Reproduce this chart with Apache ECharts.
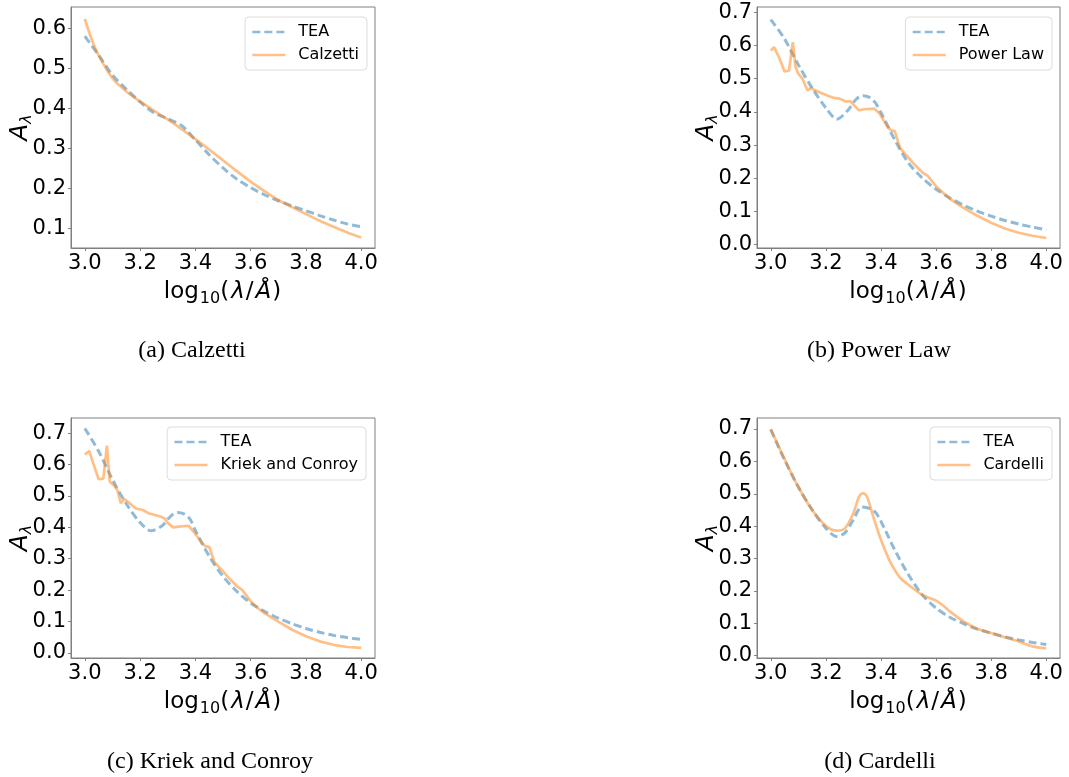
<!DOCTYPE html>
<html>
<head>
<meta charset="utf-8">
<script src="https://cdn.jsdelivr.net/npm/echarts@6/dist/echarts.min.js"></script>
<style>
  html, body { margin: 0; padding: 0; background: #fff; }
  #chart { width: 1069px; height: 777px; }
</style>
</head>
<body>
<div id="chart"></div>
<script>
// Tick values shared by the panels
const xTicks = [3.0, 3.2, 3.4, 3.6, 3.8, 4.0];
const yTicksA = [0.1, 0.2, 0.3, 0.4, 0.5, 0.6];
const yTicksB = [0.0, 0.1, 0.2, 0.3, 0.4, 0.5, 0.6, 0.7];

// (a) Calzetti
const teaAX = [3.0, 3.05, 3.1, 3.15, 3.2, 3.25, 3.3, 3.35, 3.4, 3.45, 3.5, 3.55, 3.6, 3.65, 3.7, 3.75, 3.8, 3.85, 3.9, 3.95, 4.0];
const teaAY = [0.580, 0.533, 0.483, 0.448, 0.416, 0.389, 0.374, 0.357, 0.321, 0.284, 0.251, 0.223, 0.202, 0.184, 0.169, 0.156, 0.144, 0.132, 0.121, 0.111, 0.104];
const calzettiX = [3.0, 3.025, 3.05, 3.1, 3.15, 3.2, 3.25, 3.3, 3.35, 3.4, 3.45, 3.5, 3.55, 3.6, 3.65, 3.7, 3.75, 3.8, 3.85, 3.9, 3.95, 4.0];
const calzettiY = [0.623, 0.572, 0.532, 0.475, 0.442, 0.417, 0.394, 0.372, 0.348, 0.323, 0.297, 0.270, 0.243, 0.217, 0.193, 0.171, 0.153, 0.136, 0.119, 0.104, 0.090, 0.077];

// (b) Power Law
const teaBX = [3.0, 3.05, 3.1, 3.15, 3.2, 3.24, 3.28, 3.31, 3.335, 3.36, 3.38, 3.4, 3.45, 3.5, 3.55, 3.6, 3.65, 3.7, 3.75, 3.8, 3.85, 3.9, 3.95, 4.0];
const teaBY = [0.678, 0.620, 0.542, 0.472, 0.412, 0.378, 0.405, 0.438, 0.449, 0.443, 0.427, 0.398, 0.316, 0.246, 0.201, 0.167, 0.141, 0.119, 0.101, 0.086, 0.073, 0.062, 0.053, 0.045];
const powerLawX = [3.0, 3.012, 3.03, 3.05, 3.066, 3.08, 3.09, 3.1, 3.115, 3.133, 3.147, 3.16, 3.185, 3.21, 3.23, 3.25, 3.27, 3.29, 3.3, 3.32, 3.34, 3.375, 3.395, 3.42, 3.435, 3.45, 3.47, 3.5, 3.52, 3.55, 3.57, 3.6, 3.63, 3.65, 3.7, 3.75, 3.8, 3.85, 3.9, 3.95, 4.0];
const powerLawY = [0.585, 0.595, 0.565, 0.522, 0.524, 0.610, 0.535, 0.515, 0.500, 0.465, 0.472, 0.465, 0.456, 0.448, 0.442, 0.440, 0.432, 0.432, 0.422, 0.405, 0.408, 0.410, 0.395, 0.360, 0.345, 0.342, 0.290, 0.262, 0.243, 0.218, 0.207, 0.176, 0.153, 0.138, 0.111, 0.087, 0.066, 0.049, 0.036, 0.027, 0.020];

// (c) Kriek and Conroy
const teaCX = [3.0, 3.05, 3.1, 3.15, 3.2, 3.24, 3.28, 3.31, 3.335, 3.36, 3.38, 3.4, 3.45, 3.5, 3.55, 3.6, 3.65, 3.7, 3.75, 3.8, 3.85, 3.9, 3.95, 4.0];
const teaCY = [0.715, 0.642, 0.552, 0.475, 0.415, 0.389, 0.405, 0.435, 0.447, 0.442, 0.427, 0.390, 0.308, 0.244, 0.196, 0.159, 0.133, 0.111, 0.093, 0.078, 0.066, 0.056, 0.049, 0.043];
const kriekX = [3.0, 3.016, 3.03, 3.05, 3.067, 3.08, 3.09, 3.107, 3.118, 3.13, 3.143, 3.16, 3.185, 3.21, 3.23, 3.25, 3.27, 3.29, 3.3, 3.32, 3.34, 3.375, 3.395, 3.42, 3.435, 3.45, 3.47, 3.5, 3.52, 3.55, 3.57, 3.6, 3.63, 3.65, 3.7, 3.75, 3.8, 3.85, 3.9, 3.95, 4.0];
const kriekY = [0.632, 0.643, 0.605, 0.553, 0.555, 0.660, 0.546, 0.532, 0.518, 0.477, 0.490, 0.478, 0.460, 0.455, 0.445, 0.440, 0.435, 0.428, 0.414, 0.400, 0.402, 0.405, 0.385, 0.355, 0.340, 0.338, 0.287, 0.260, 0.240, 0.213, 0.200, 0.165, 0.140, 0.127, 0.100, 0.074, 0.053, 0.037, 0.026, 0.019, 0.016];

// (d) Cardelli
const teaDX = [3.0, 3.05, 3.1, 3.15, 3.2, 3.24, 3.27, 3.3, 3.33, 3.36, 3.38, 3.4, 3.45, 3.5, 3.55, 3.6, 3.65, 3.7, 3.75, 3.8, 3.85, 3.9, 3.95, 4.0];
const teaDY = [0.698, 0.605, 0.521, 0.451, 0.394, 0.368, 0.380, 0.420, 0.459, 0.454, 0.443, 0.415, 0.327, 0.250, 0.188, 0.147, 0.119, 0.099, 0.082, 0.070, 0.058, 0.049, 0.041, 0.035];
const cardelliX = [3.0, 3.05, 3.1, 3.15, 3.2, 3.24, 3.27, 3.3, 3.32, 3.335, 3.35, 3.37, 3.4, 3.43, 3.45, 3.47, 3.5, 3.55, 3.6, 3.63, 3.65, 3.7, 3.75, 3.8, 3.85, 3.9, 3.95, 4.0];
const cardelliY = [0.700, 0.607, 0.521, 0.451, 0.401, 0.386, 0.394, 0.440, 0.490, 0.502, 0.490, 0.435, 0.358, 0.296, 0.265, 0.240, 0.219, 0.188, 0.170, 0.152, 0.137, 0.106, 0.083, 0.070, 0.057, 0.044, 0.029, 0.023];

const panels = [
  { grid: { left: 71, top: 7, width: 304, height: 241 }, yMin: 0.051, yMax: 0.653, yTicks: yTicksA,
    model: 'Calzetti', teaX: teaAX, teaY: teaAY, mX: calzettiX, mY: calzettiY, smoothModel: true,
    legend: { right: 702, top: 17 }, caption: '(a) Calzetti', capX: 192, capY: 351 },
  { grid: { left: 757, top: 7, width: 303, height: 241 }, yMin: -0.010, yMax: 0.716, yTicks: yTicksB,
    model: 'Power Law', teaX: teaBX, teaY: teaBY, mX: powerLawX, mY: powerLawY, smoothModel: false,
    legend: { right: 17, top: 17 }, caption: '(b) Power Law', capX: 879, capY: 351 },
  { grid: { left: 71, top: 418, width: 304, height: 240 }, yMin: -0.016, yMax: 0.748, yTicks: yTicksB,
    model: 'Kriek and Conroy', teaX: teaCX, teaY: teaCY, mX: kriekX, mY: kriekY, smoothModel: false,
    legend: { right: 703, top: 427 }, caption: '(c) Kriek and Conroy', capX: 210, capY: 762 },
  { grid: { left: 757, top: 418, width: 303, height: 240 }, yMin: -0.007, yMax: 0.734, yTicks: yTicksB,
    model: 'Cardelli', teaX: teaDX, teaY: teaDY, mX: cardelliX, mY: cardelliY, smoothModel: true,
    legend: { right: 17, top: 427 }, caption: '(d) Cardelli', capX: 880, capY: 762 }
];

const SANS = 'DejaVu Sans';
const SPINE = '#808080';
const BLUE = 'rgba(31,119,180,0.5)';
const ORANGE = 'rgba(255,127,14,0.5)';

const zip = (xs, ys) => xs.map((x, i) => [x, ys[i]]);

const option = {
  backgroundColor: '#fff',
  animation: false,
  grid: [], xAxis: [], yAxis: [], series: [], legend: [], graphic: []
};

panels.forEach((p, i) => {
  option.grid.push(Object.assign({ show: true, borderColor: SPINE, borderWidth: 1, containLabel: false }, p.grid));
  option.xAxis.push({
    type: 'value', gridIndex: i, min: 2.95, max: 4.05,
    axisLine: { show: true, onZero: false, lineStyle: { color: SPINE, width: 1 } },
    axisTick: { show: true, length: 3, customValues: xTicks, lineStyle: { color: SPINE } },
    axisLabel: { customValues: xTicks, margin: 5, fontFamily: SANS, fontSize: 21, color: '#000',
      formatter: v => v.toFixed(1) },
    splitLine: { show: false },
    name: '{a|log}{s|10}{a|(}{i|λ}{a|/}{i|Å}{a|)}',
    nameLocation: 'middle', nameGap: 29, nameMoveOverlap: false,
    nameTextStyle: {
      rich: {
        a: { fontFamily: SANS, fontSize: 23, color: '#000', lineHeight: 30, padding: [0, 1, 0, 0] },
        i: { fontFamily: SANS, fontSize: 23, fontStyle: 'italic', color: '#000', lineHeight: 30, padding: [0, 1, 0, 1] },
        s: { fontFamily: SANS, fontSize: 16, color: '#000', verticalAlign: 'bottom', lineHeight: 12 }
      }
    }
  });
  option.yAxis.push({
    type: 'value', gridIndex: i, min: p.yMin, max: p.yMax,
    axisLine: { show: true, onZero: false, lineStyle: { color: SPINE, width: 1 } },
    axisTick: { show: true, length: 3, customValues: p.yTicks, lineStyle: { color: SPINE } },
    axisLabel: { customValues: p.yTicks, margin: 5, fontFamily: SANS, fontSize: 21, color: '#000',
      formatter: v => v.toFixed(1) },
    splitLine: { show: false },
    name: '{i|A}{s|λ}',
    nameLocation: 'middle', nameRotate: 90, nameGap: 36, nameMoveOverlap: false,
    nameTextStyle: {
      rich: {
        i: { fontFamily: SANS, fontSize: 25, fontStyle: 'italic', color: '#000', lineHeight: 30 },
        s: { fontFamily: SANS, fontSize: 16, fontStyle: 'italic', color: '#000', verticalAlign: 'bottom', lineHeight: 10 }
      }
    }
  });
  option.series.push({
    name: 'TEA', type: 'line', xAxisIndex: i, yAxisIndex: i,
    data: zip(p.teaX, p.teaY), symbol: 'none', smooth: 0.3,
    lineStyle: { color: BLUE, width: 3, type: [8, 4] }, itemStyle: { color: BLUE }
  });
  option.series.push({
    name: p.model, type: 'line', xAxisIndex: i, yAxisIndex: i,
    data: zip(p.mX, p.mY), symbol: 'none', smooth: p.smoothModel ? 0.3 : false,
    lineStyle: { color: ORANGE, width: 2.7 }, itemStyle: { color: ORANGE }
  });
  option.legend.push(Object.assign({
    orient: 'vertical', data: ['TEA', p.model],
    padding: [7, 8, 7, 6], itemGap: 7, itemWidth: 33, itemHeight: 14,
    borderColor: '#dcdcdc', borderWidth: 1, borderRadius: 4, backgroundColor: 'rgba(255,255,255,0.8)',
    selectedMode: false,
    itemStyle: { opacity: 0 },
    lineStyle: { width: 2.7 },
    textStyle: { fontFamily: SANS, fontSize: 16, color: '#000', lineHeight: 16, padding: [0, 0, 0, 8] }
  }, p.legend));
  option.graphic.push({
    type: 'text', x: p.capX, y: p.capY,
    style: { text: p.caption, fontFamily: 'Liberation Serif', fontSize: 24, fill: '#000',
      align: 'center', verticalAlign: 'middle' }
  });
});

const chart = echarts.init(document.getElementById('chart'), null, { renderer: 'canvas' });
chart.setOption(option);
</script>
</body>
</html>
